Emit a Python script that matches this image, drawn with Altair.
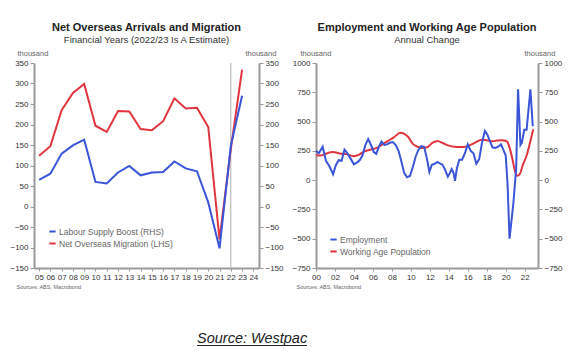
import altair as alt
import pandas as pd

# ---------------- Left panel data (financial years) ----------------
fy_years = list(range(2005, 2024))
net_overseas_migration = [124, 147, 235, 277, 299, 197, 182, 233, 232, 189, 186, 208, 264, 239, 241, 194, -80, 140, 334]
labour_supply_boost = [65, 80, 129, 149, 163, 60, 56, 83, 99, 76, 83, 84, 110, 93, 86, 10, -102, 148, 270]
left_tick_years = list(range(2005, 2025))
estimate_marker_year = [2022]

# ---------------- Right panel data (annual change) ----------------
emp_year = [2000.0, 2000.3, 2000.7, 2001.05, 2001.4, 2001.8, 2002.1, 2002.4, 2002.7, 2003.0,
            2003.3, 2003.6, 2004.0, 2004.3, 2004.6, 2004.9, 2005.2, 2005.5, 2005.8, 2006.1,
            2006.35, 2006.6, 2006.9, 2007.2, 2007.5, 2007.8, 2008.1, 2008.4, 2008.7, 2009.0,
            2009.3, 2009.6, 2009.9, 2010.2, 2010.5, 2010.8, 2011.1, 2011.4, 2011.7, 2011.95,
            2012.2, 2012.5, 2012.8, 2013.1, 2013.35, 2013.6, 2013.9, 2014.1, 2014.3, 2014.5,
            2014.65, 2014.85, 2015.1, 2015.4, 2015.7, 2016.0, 2016.3, 2016.6, 2016.9, 2017.2,
            2017.5, 2017.8, 2018.05, 2018.3, 2018.6, 2018.9, 2019.2, 2019.5, 2019.8, 2020.0,
            2020.2, 2020.4, 2020.8, 2021.1, 2021.3, 2021.55, 2021.7, 2021.95, 2022.2, 2022.6,
            2022.85]
emp_val = [250, 230, 285, 165, 120, 50, 130, 170, 165, 260,
           230, 190, 135, 150, 170, 210, 300, 350, 300, 240,
           225, 280, 330, 300, 305, 320, 325, 300, 250, 160,
           60, 25, 35, 110, 200, 260, 290, 285, 180, 70,
           130, 140, 155, 140, 130, 90, 30, 60, 95, 60,
           -5, 100, 175, 175, 230, 305, 250, 230, 140, 180,
           320, 420, 390, 340, 280, 275, 285, 305, 250, 210,
           -50, -500, -200, 100, 775, 300, 320, 430, 430, 775,
           460]

wap_year = [2000.0, 2000.5, 2001.0, 2001.8, 2002.5, 2003.2, 2004.0, 2004.6, 2005.1, 2005.8,
            2006.4, 2007.0, 2007.6, 2008.2, 2008.9, 2009.3, 2009.7, 2010.2, 2010.7, 2011.2,
            2011.7, 2012.3, 2012.8, 2013.4, 2014.0, 2014.6, 2015.2, 2015.8, 2016.4, 2017.0,
            2017.5, 2018.0, 2018.6, 2019.1, 2019.6, 2020.1, 2020.4, 2020.7, 2021.0, 2021.2,
            2021.5, 2021.8, 2022.2, 2022.6, 2022.9]
wap_val = [215, 210, 225, 240, 228, 222, 205, 220, 245, 262,
           275, 305, 335, 365, 405, 395, 370, 310, 285, 275,
           280, 320, 335, 315, 295, 285, 283, 285, 305, 330,
           345, 340, 332, 338, 340, 332, 280, 180, 70, 37,
           55, 130, 210, 335, 435]
right_tick_years = list(range(2000, 2023, 2))

BLUE = "#3a55d8"
RED = "#e0353f"
FONT = "Liberation Sans"
AXC = "#9a9a9a"
TXT = "#666666"


def yaxis(orient, values, title_x):
    return alt.Axis(orient=orient, values=values, format="d", title="thousand", titleAngle=0,
                    titleX=title_x, titleY=-8, titleAlign="left", titleBaseline="alphabetic",
                    titleFontSize=7.5, titleFontWeight="normal", titleColor=TXT, titleFont=FONT,
                    labelFont=FONT, labelFontSize=8, labelColor="#333", labelPadding=2,
                    labelOverlap=False, domainColor=AXC, domainWidth=2, tickColor=AXC,
                    tickSize=4, grid=False)


def xaxis(values, title_x):
    return alt.Axis(values=values, labelExpr="substring(toString(datum.value), 2)",
                    title="Sources: ABS, Macrobond", titleX=title_x, titleY=20, titleAlign="left",
                    titleBaseline="alphabetic", titleFontSize=5.5, titleFontWeight="normal",
                    titleColor=TXT, titleFont=FONT, labelFont=FONT, labelFontSize=8,
                    labelColor="#333", labelPadding=2, labelFlush=False, labelOverlap=False,
                    labelBound=False, domainColor=AXC, domainWidth=2, tickColor=AXC, tickSize=3,
                    grid=False)


def legend(lx, ly):
    return alt.Legend(orient="none", legendX=lx, legendY=ly, title=None, symbolType="stroke",
                      symbolSize=40, symbolStrokeWidth=2, labelFont=FONT, labelFontSize=8.5,
                      labelColor=TXT, rowPadding=3, labelOffset=2, padding=0)


# ---------------- Left panel ----------------
left_series = ["Labour Supply Boost (RHS)", "Net Overseas Migration (LHS)"]
left_color = alt.Scale(domain=left_series, range=[BLUE, RED])
lx_scale = alt.Scale(domain=[2004.55, 2024.5], nice=False, zero=False)
lx_axis = xaxis(left_tick_years, -18)
ly_scale = alt.Scale(domain=[-150, 350], nice=False, zero=False)
ly_vals = list(range(-150, 351, 50))

df_nom = pd.DataFrame({"year": fy_years, "value": net_overseas_migration, "series": left_series[1]})
df_lsb = pd.DataFrame({"year": fy_years, "value": labour_supply_boost, "series": left_series[0]})

nom_line = alt.Chart(df_nom).mark_line(strokeWidth=2).encode(
    x=alt.X("year:Q", scale=lx_scale, axis=lx_axis),
    y=alt.Y("value:Q", scale=ly_scale, axis=yaxis("left", ly_vals, -17)),
    color=alt.Color("series:N", scale=left_color, legend=legend(14, 164)),
)
lsb_line = alt.Chart(df_lsb).mark_line(strokeWidth=2).encode(
    x=alt.X("year:Q", scale=lx_scale, axis=lx_axis),
    y=alt.Y("value:Q", scale=ly_scale, axis=yaxis("right", ly_vals, -14)),
    color=alt.Color("series:N", scale=left_color, legend=legend(14, 164)),
)
vline = alt.Chart(pd.DataFrame({"year": estimate_marker_year})).mark_rule(
    color="#b0b0b0", strokeWidth=1).encode(x=alt.X("year:Q", scale=lx_scale, axis=lx_axis))

left = alt.layer(vline, nom_line, lsb_line).resolve_scale(y="independent").properties(
    width=225, height=205,
    title=alt.TitleParams(text="Net Overseas Arrivals and Migration",
                          subtitle="Financial Years (2022/23 Is A Estimate)",
                          font=FONT, subtitleFont=FONT, fontSize=11, subtitleFontSize=9.5,
                          fontWeight="bold", color="#222", subtitleColor="#333",
                          anchor="middle", frame="group", offset=5, subtitlePadding=2),
)

# ---------------- Right panel ----------------
right_series = ["Employment", "Working Age Population"]
right_color = alt.Scale(domain=right_series, range=[BLUE, RED])
rx_scale = alt.Scale(domain=[2000, 2023.4], nice=False, zero=False)
rx_axis = xaxis(right_tick_years, -20)
ry_scale = alt.Scale(domain=[-750, 1000], nice=False, zero=False)
ry_vals = list(range(-750, 1001, 250))

df_emp = pd.DataFrame({"year": emp_year, "value": emp_val, "series": right_series[0]})
df_wap = pd.DataFrame({"year": wap_year, "value": wap_val, "series": right_series[1]})

wap_line = alt.Chart(df_wap).mark_line(strokeWidth=2, interpolate="monotone").encode(
    x=alt.X("year:Q", scale=rx_scale, axis=rx_axis),
    y=alt.Y("value:Q", scale=ry_scale, axis=yaxis("left", ry_vals, -16)),
    color=alt.Color("series:N", scale=right_color, legend=legend(13, 172)),
)
emp_line = alt.Chart(df_emp).mark_line(strokeWidth=2).encode(
    x=alt.X("year:Q", scale=rx_scale, axis=rx_axis),
    y=alt.Y("value:Q", scale=ry_scale, axis=yaxis("right", ry_vals, -14)),
    color=alt.Color("series:N", scale=right_color, legend=legend(13, 172)),
)

right = alt.layer(wap_line, emp_line).resolve_scale(y="independent").properties(
    width=222, height=205,
    title=alt.TitleParams(text="Employment and Working Age Population",
                          subtitle="Annual Change",
                          font=FONT, subtitleFont=FONT, fontSize=11, subtitleFontSize=9.5,
                          fontWeight="bold", color="#222", subtitleColor="#333",
                          anchor="middle", frame="group", offset=5, subtitlePadding=2),
)

# ---------------- Source note ----------------
source_df = pd.DataFrame({"t": ["Source: Westpac"]})
src_text = alt.Chart(source_df).mark_text(
    font=FONT, fontSize=14.5, fontStyle="italic", align="left", baseline="alphabetic", color="#222"
).encode(text="t:N", x=alt.value(163), y=alt.value(53))
src_line = alt.Chart(source_df).mark_rule(color="#222", strokeWidth=1).encode(
    x=alt.value(163), x2=alt.value(273), y=alt.value(55.5))
source = alt.layer(src_text, src_line).properties(width=10, height=58)

chart = alt.vconcat(
    alt.hconcat(left, right, spacing=7).resolve_scale(color="independent"),
    source, spacing=0,
).properties(
    padding={"left": 9, "top": 21, "right": 0, "bottom": 0},
    background="white",
).configure_view(stroke=None).configure_axis(titleColor=TXT, labelOverlap=False)

chart.save("out.html", embed_options={"renderer": "svg", "actions": False})
